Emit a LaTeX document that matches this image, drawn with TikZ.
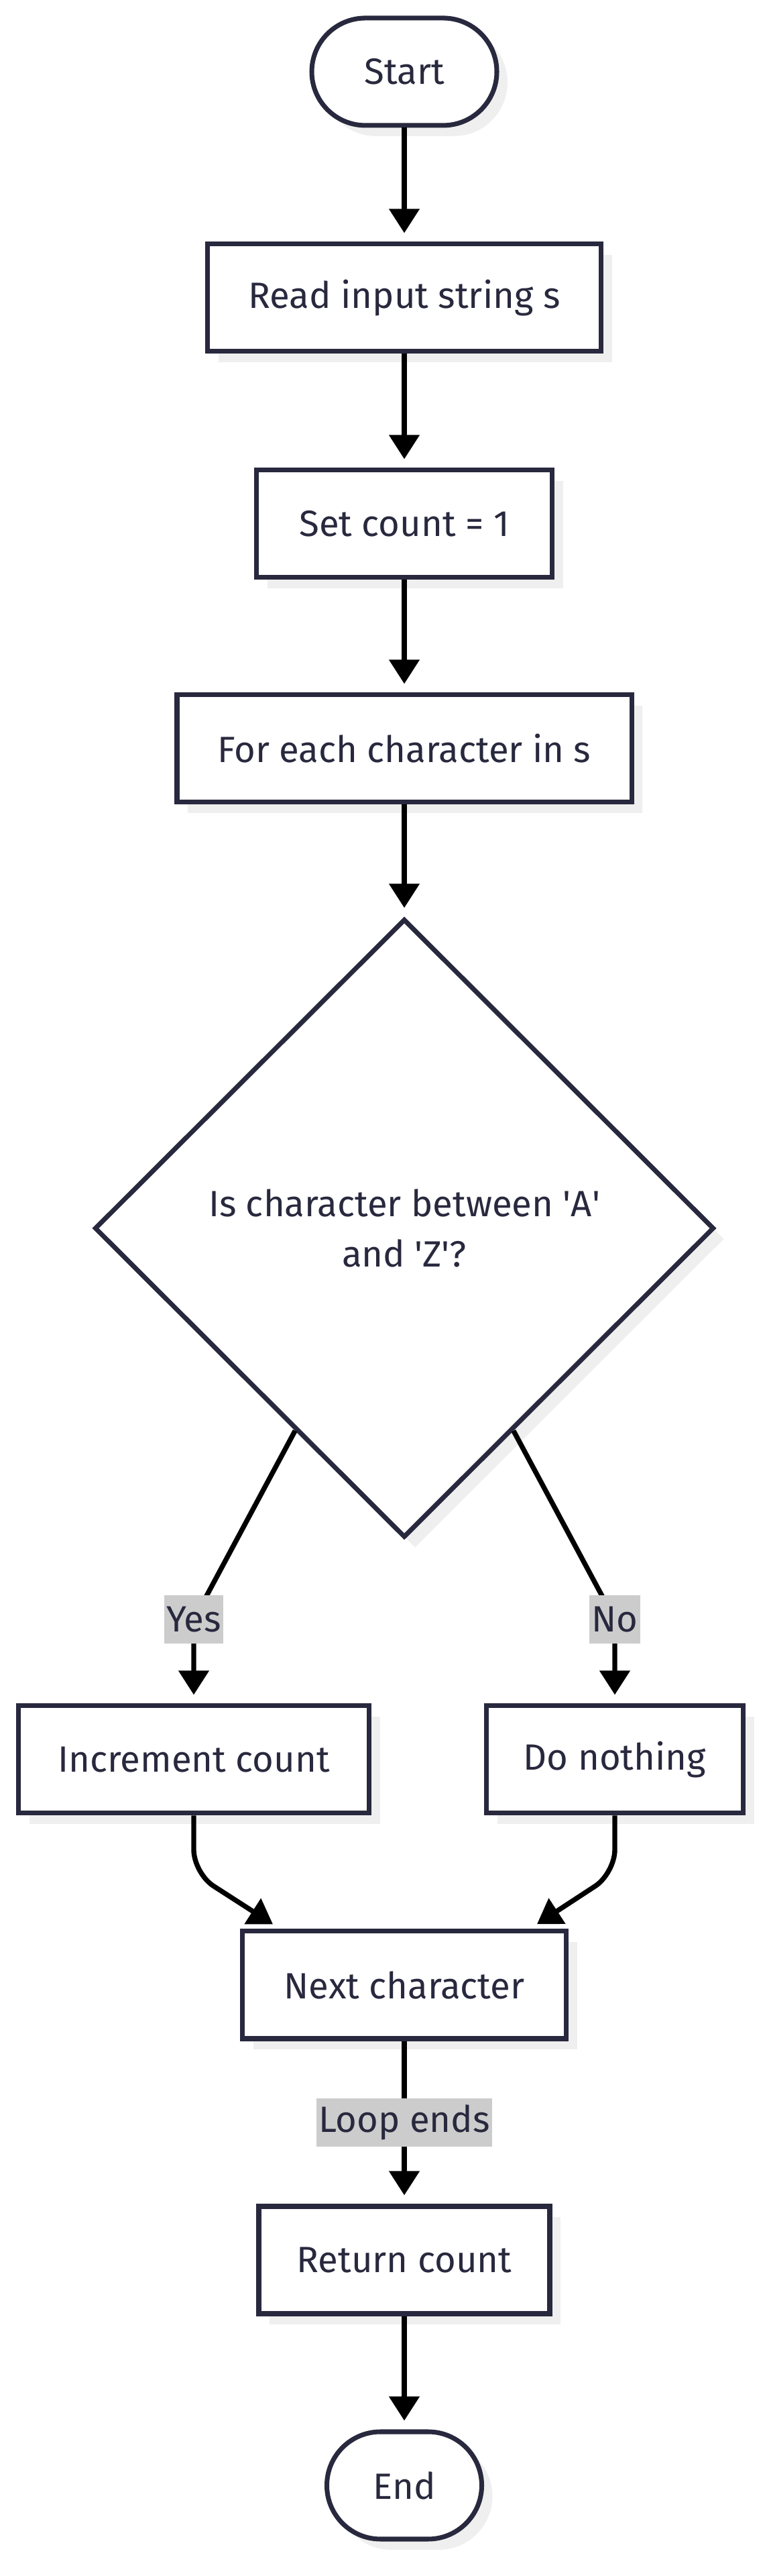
\documentclass[tikz,border=0pt]{standalone}
\usepackage{fontspec}
\setmainfont{Fira Sans}
\usepackage{tikz}
\usetikzlibrary{arrows.meta,shapes.geometric,shadows,calc,positioning}
\definecolor{navy}{RGB}{40,40,62}
\definecolor{shade}{RGB}{239,239,239}
\definecolor{lblgray}{RGB}{204,204,204}
\newcommand{\flowfont}{\fontsize{15.5pt}{21.3pt}\selectfont}
\tikzset{
    box/.style={draw=navy, line width=2pt, fill=white, text=navy, font=\flowfont,
        minimum height=1.6cm, inner sep=0pt,
        general shadow={fill=shade, draw=none, shadow xshift=0.16cm, shadow yshift=-0.16cm}},
    term/.style={box, rounded corners=0.8cm},
    decide/.style={box, diamond, aspect=1, align=center},
    lbl/.style={fill=lblgray, text=navy, font=\flowfont, inner xsep=1pt, inner ysep=0pt,
        minimum height=0.72cm},
    flow/.style={draw=black, line width=2.1pt, -{Triangle[length=3.6mm,width=4.4mm]},
        shorten >=1.3mm}
}
\begin{document}
\begin{tikzpicture}[]
    \useasboundingbox (0,0) rectangle (11.43,38.40);
    \node[term, minimum width=2.76cm] at (6.03,37.33) (start) {Start};
    \node[box, minimum width=5.87cm] at (6.03,33.96) (read) {Read input string s};
    \node[box, minimum width=4.41cm] at (6.03,30.59) (setc) {Set count = 1};
    \node[box, minimum width=6.78cm] at (6.03,27.24) (each) {For each character in s};
    \node[decide, minimum width=9.24cm, minimum height=9.22cm] at (6.03,20.09) (dec)
        {Is character between \textquotesingle A\textquotesingle\\and \textquotesingle Z\textquotesingle?};
    \node[box, minimum width=5.23cm] at (2.89,12.17) (inc) {Increment count};
    \node[box, minimum width=3.83cm] at (9.17,12.17) (dono) {Do nothing};
    \node[box, minimum width=4.83cm] at (6.03,8.81) (nxt) {Next character};
    \node[box, minimum width=4.34cm] at (6.03,4.71) (ret) {Return count};
    \node[term, minimum width=2.31cm] at (6.03,1.35) (stop) {End};
    \coordinate (yesout) at ($(dec.west)!0.65!(dec.south)$);
    \coordinate (noout) at ($(dec.east)!0.65!(dec.south)$);
    \path[flow]
    (start) edge (read)
    (read) edge (setc)
    (setc) edge (each)
    (each) edge (dec)
    (nxt) edge node[lbl] {Loop ends} (ret)
    (ret) edge (stop)
    ;
    % branches out of the decision
    \draw[flow] (yesout) -- ($(inc.north)+(0,1.25)$) -- (inc.north) node[lbl, pos=0] {Yes};
    \draw[flow] (noout) -- ($(dono.north)+(0,1.25)$) -- (dono.north) node[lbl, pos=0] {No};
    % both join at next character
    \draw[flow, rounded corners=0.35cm] (inc.south) -- ++(0,-0.86) -- ([xshift=0.6cm]nxt.north west);
    \draw[flow, rounded corners=0.35cm] (dono.south) -- ++(0,-0.86) -- ([xshift=-0.58cm]nxt.north east);
\end{tikzpicture}
\end{document}
